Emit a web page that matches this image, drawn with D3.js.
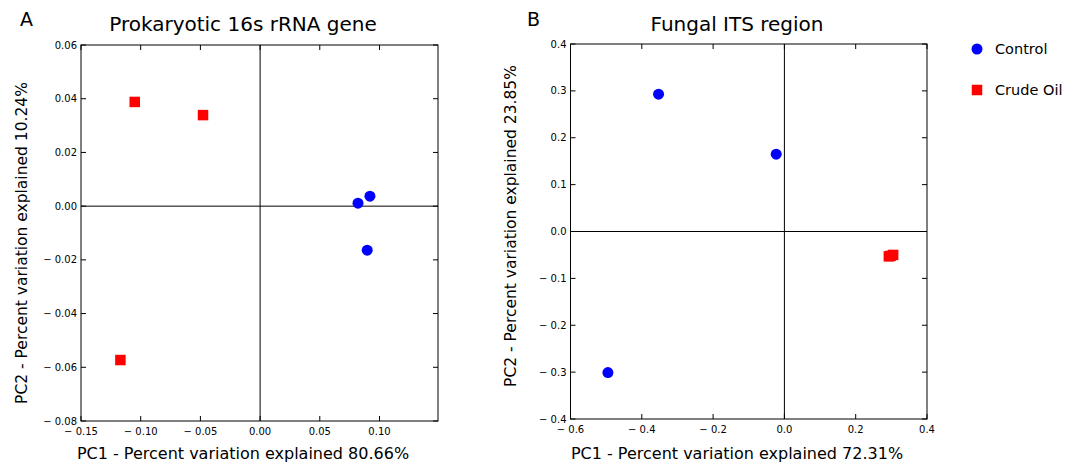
<!DOCTYPE html>
<html>
<head>
<meta charset="utf-8">
<script src="https://cdn.jsdelivr.net/npm/d3@7"></script>
<style>
  body { margin: 0; background: #fff; }
  svg { font-family: "DejaVu Sans", sans-serif; }
</style>
</head>
<body>
<svg id="chart" width="1081" height="465"></svg>
<script>
// Panel A - prokaryotic 16s rRNA (PC1, PC2)
const proControl = [[0.082, 0.0011], [0.092, 0.0037], [0.0897, -0.0164]];
const proCrude = [[-0.105, 0.0388], [-0.0478, 0.0339], [-0.117, -0.0573]];
const proXTicks = [-0.15, -0.10, -0.05, 0.00, 0.05, 0.10];
const proYTicks = [-0.08, -0.06, -0.04, -0.02, 0.00, 0.02, 0.04, 0.06];

// Panel B - fungal ITS region
const funControl = [[-0.353, 0.293], [-0.023, 0.165], [-0.495, -0.301]];
const funCrude = [[0.293, -0.053], [0.298, -0.052], [0.305, -0.050]];
const funXTicks = [-0.6, -0.4, -0.2, 0.0, 0.2, 0.4];
const funYTicks = [-0.4, -0.3, -0.2, -0.1, 0.0, 0.1, 0.2, 0.3, 0.4];

const groups = ['Control', 'Crude Oil'];
const colors = ['#0000ff', '#ff0000'];

const svg = d3.select('#chart');

/**
 * Format tick like matplotlib mathtext: "− 0.15"
 */
function tickFormat(digits) {
  return d => {
    const s = Math.abs(d).toFixed(digits);
    return d < -1e-9 ? '\u2212 ' + s : s;
  };
}

/**
 * Draw one PCoA panel
 */
function drawPanel(p) {
  const x = d3.scaleLinear().domain(p.xDomain).range([p.left, p.right]);
  const y = d3.scaleLinear().domain(p.yDomain).range([p.bottom, p.top]);
  const g = svg.append('g');
  const tl = 5;

  // Frame
  g.append('rect')
    .attr('x', p.left).attr('y', p.top)
    .attr('width', p.right - p.left).attr('height', p.bottom - p.top)
    .attr('fill', 'none').attr('stroke', '#000').attr('stroke-width', 1);

  // Zero lines
  g.append('line')
    .attr('x1', x(0)).attr('x2', x(0)).attr('y1', p.top).attr('y2', p.bottom)
    .attr('stroke', '#000').attr('stroke-width', 1);
  g.append('line')
    .attr('x1', p.left).attr('x2', p.right).attr('y1', y(0)).attr('y2', y(0))
    .attr('stroke', '#000').attr('stroke-width', 1);

  // Inward ticks on all sides
  const xt = p.xTicks.filter(d => d >= p.xDomain[0] && d <= p.xDomain[1]);
  const yt = p.yTicks;
  [[p.bottom, -tl], [p.top, tl]].forEach(([yy, dy]) => {
    g.append('g').selectAll('line').data(xt).join('line')
      .attr('x1', d => x(d)).attr('x2', d => x(d))
      .attr('y1', yy).attr('y2', yy + dy)
      .attr('stroke', '#000').attr('stroke-width', 1);
  });
  [[p.left, tl], [p.right, -tl]].forEach(([xx, dx]) => {
    g.append('g').selectAll('line').data(yt).join('line')
      .attr('y1', d => y(d)).attr('y2', d => y(d))
      .attr('x1', xx).attr('x2', xx + dx)
      .attr('stroke', '#000').attr('stroke-width', 1);
  });

  // Tick labels
  g.append('g').selectAll('text').data(xt).join('text')
    .attr('x', d => x(d)).attr('y', p.bottom + 14)
    .attr('text-anchor', 'middle')
    .attr('font-size', '10px')
    .text(tickFormat(p.digitsX));
  g.append('g').selectAll('text').data(yt).join('text')
    .attr('x', p.left - 4).attr('y', d => y(d) + 3.5)
    .attr('text-anchor', 'end')
    .attr('font-size', '10px')
    .text(tickFormat(p.digitsY));

  // Points
  const s = 10.5;
  g.append('g').selectAll('rect').data(p.crude).join('rect')
    .attr('x', d => x(d[0]) - s / 2).attr('y', d => y(d[1]) - s / 2)
    .attr('width', s).attr('height', s)
    .attr('fill', colors[1]);
  g.append('g').selectAll('circle').data(p.control).join('circle')
    .attr('cx', d => x(d[0])).attr('cy', d => y(d[1]))
    .attr('r', 5.5)
    .attr('fill', colors[0]);

  // Titles and labels
  g.append('text')
    .attr('x', p.titleX).attr('y', 31)
    .attr('text-anchor', 'middle')
    .attr('font-size', '20px')
    .text(p.title);
  g.append('text')
    .attr('x', p.letterX).attr('y', 26)
    .attr('font-size', '19px')
    .text(p.letter);
  g.append('text')
    .attr('x', p.titleX).attr('y', 459)
    .attr('text-anchor', 'middle')
    .attr('font-size', '16px')
    .text(p.xLabel);
  g.append('text')
    .attr('transform', `translate(${p.yLabelX},${p.yLabelY}) rotate(-90)`)
    .attr('text-anchor', 'middle')
    .attr('font-size', '15.5px')
    .text(p.yLabel);
}

drawPanel({
  left: 81, right: 438, top: 45, bottom: 421,
  xDomain: [-0.15, 0.149], yDomain: [-0.08, 0.06],
  xTicks: proXTicks, yTicks: proYTicks, digitsX: 2, digitsY: 2,
  control: proControl, crude: proCrude,
  title: 'Prokaryotic 16s rRNA gene', titleX: 243, letter: 'A', letterX: 20,
  xLabel: 'PC1 - Percent variation explained 80.66%',
  yLabel: 'PC2 - Percent variation explained 10.24%',
  yLabelX: 27, yLabelY: 243
});

drawPanel({
  left: 570.5, right: 927, top: 44, bottom: 419,
  xDomain: [-0.6, 0.4], yDomain: [-0.4, 0.4],
  xTicks: funXTicks, yTicks: funYTicks, digitsX: 1, digitsY: 1,
  control: funControl, crude: funCrude,
  title: 'Fungal ITS region', titleX: 737, letter: 'B', letterX: 527,
  xLabel: 'PC1 - Percent variation explained 72.31%',
  yLabel: 'PC2 - Percent variation explained 23.85%',
  yLabelX: 516, yLabelY: 226
});

// Legend
const legend = svg.append('g').attr('transform', 'translate(977,49)');
const item = legend.selectAll('g').data(groups).join('g')
  .attr('transform', (d, i) => `translate(0,${i * 41})`);
item.filter((d, i) => i === 0).append('circle')
  .attr('r', 5.5).attr('fill', colors[0]);
item.filter((d, i) => i === 1).append('rect')
  .attr('x', -5.25).attr('y', -5.25).attr('width', 10.5).attr('height', 10.5)
  .attr('fill', colors[1]);
item.append('text')
  .attr('x', 18).attr('y', 5)
  .attr('font-size', '14.5px')
  .text(d => d);
</script>
</body>
</html>
